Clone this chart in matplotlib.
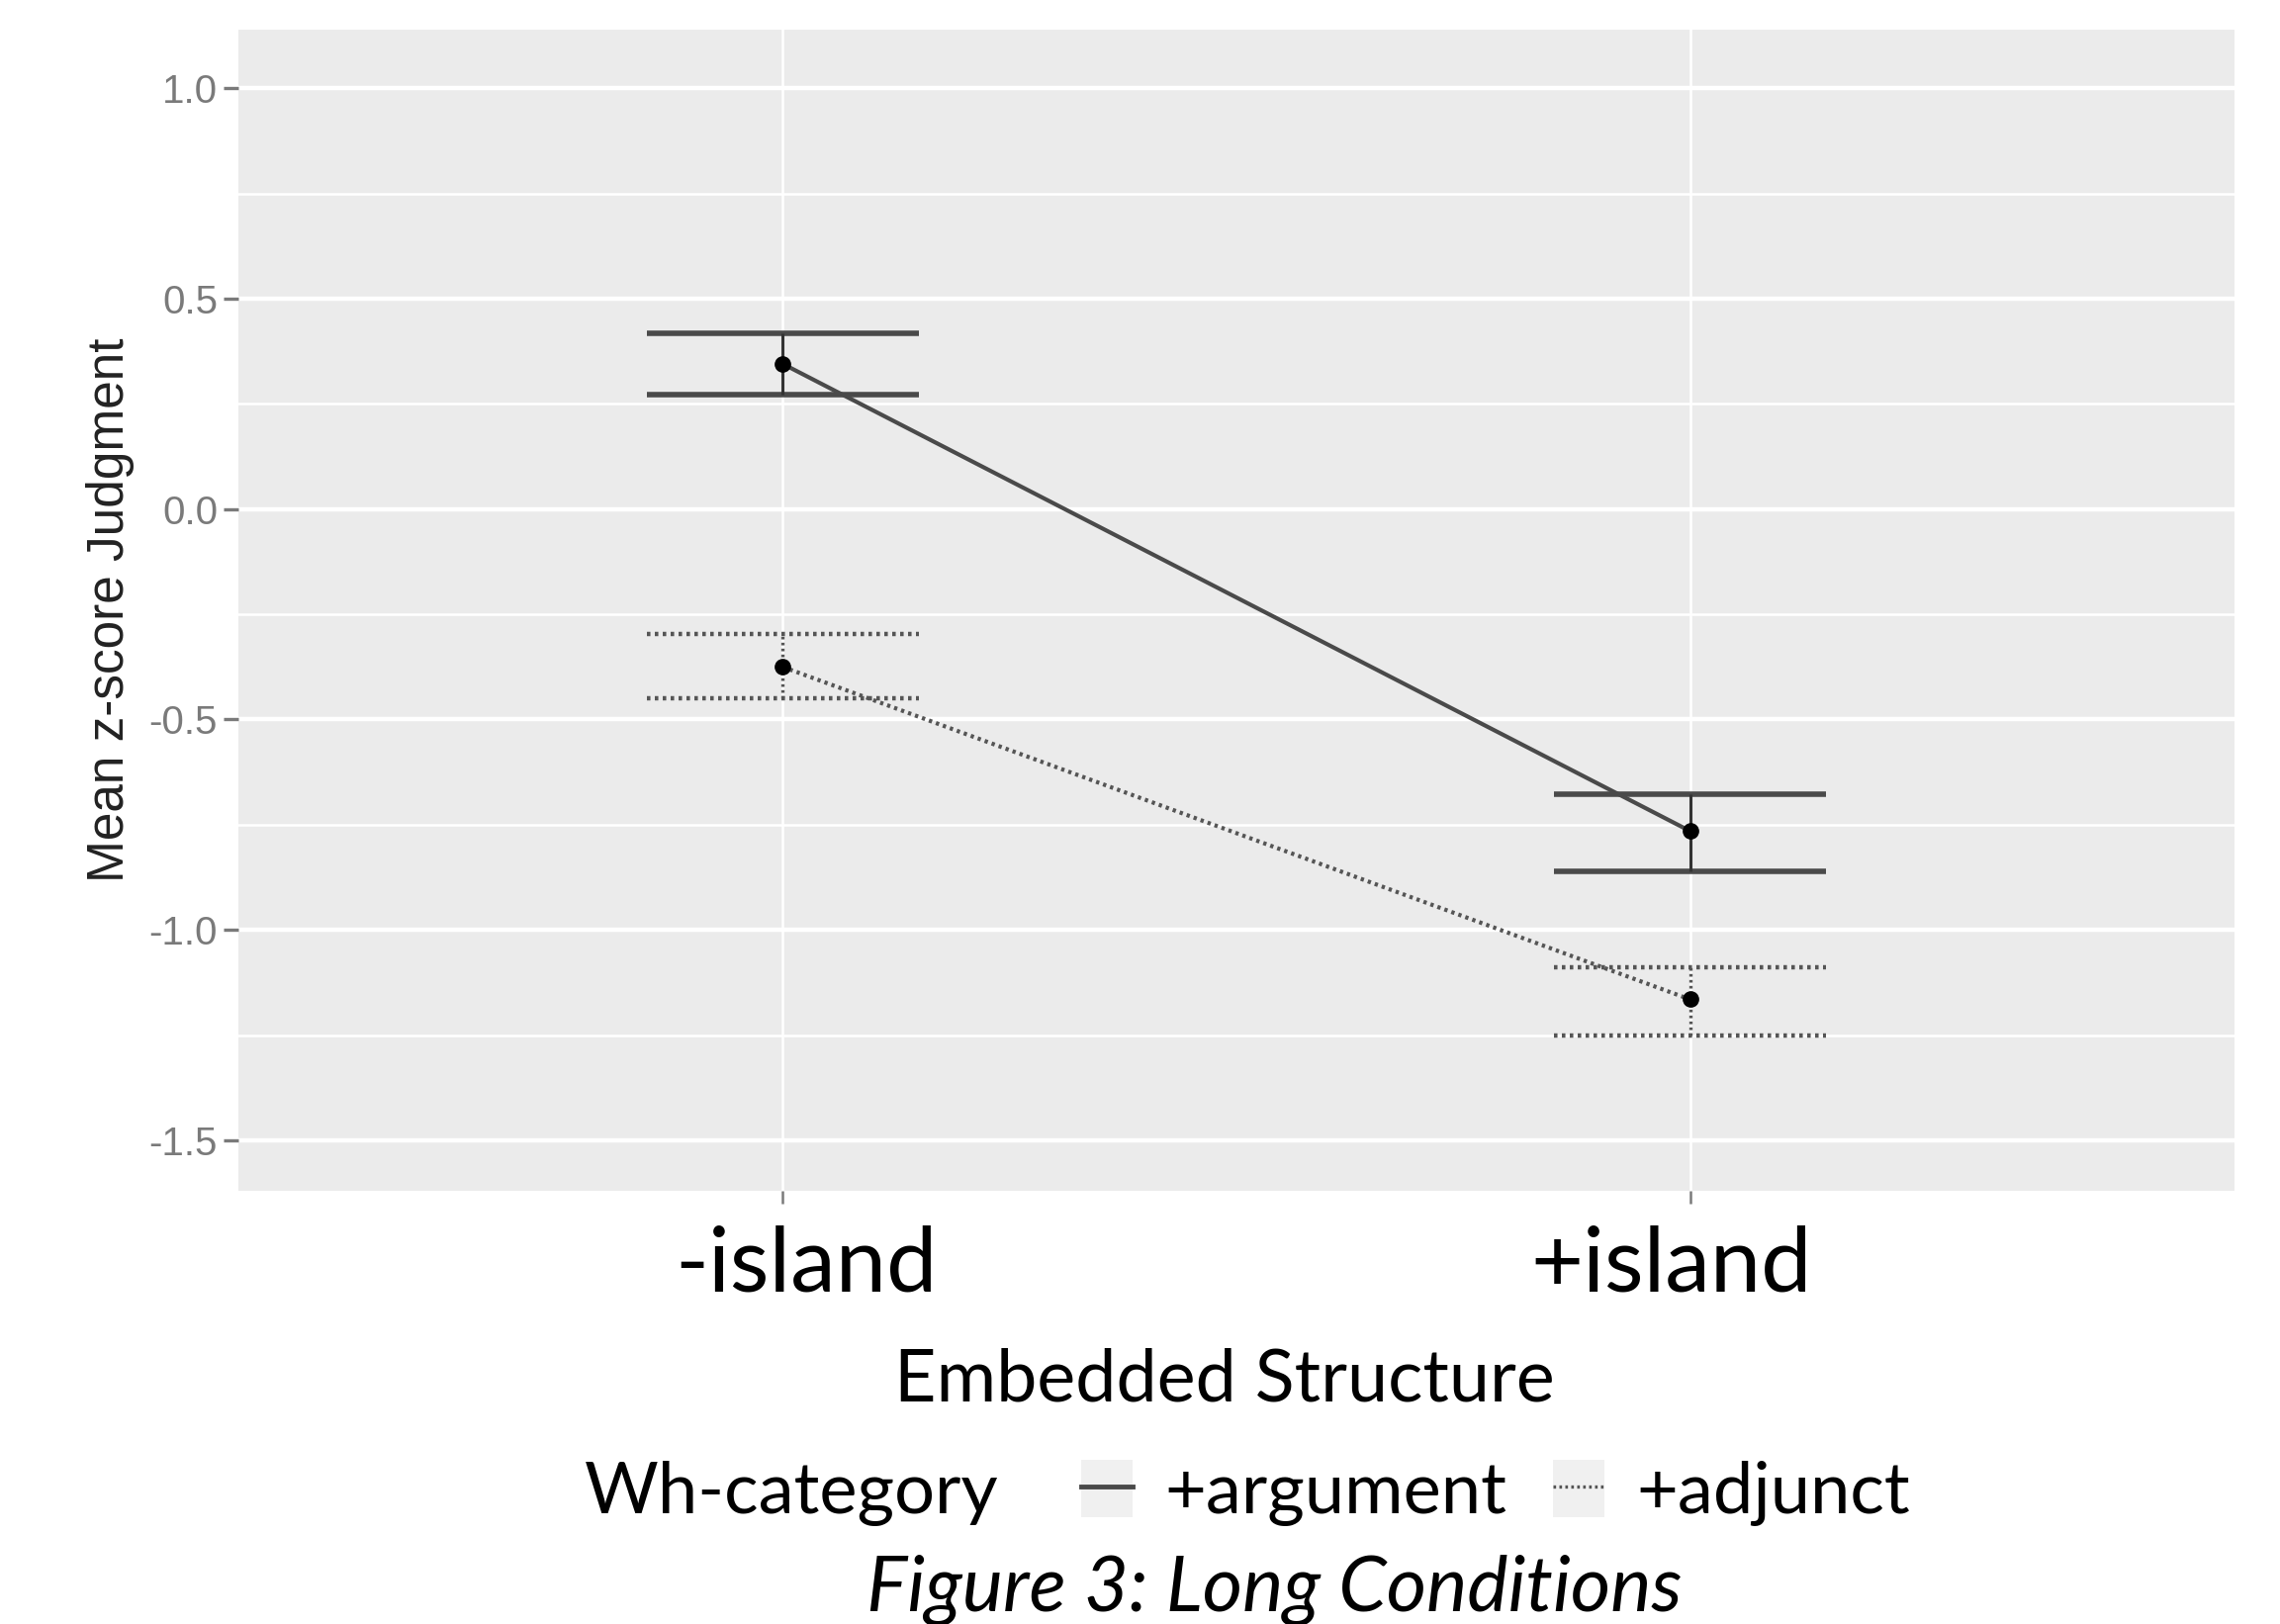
import matplotlib
matplotlib.use("Agg")
import matplotlib.pyplot as plt
from matplotlib.lines import Line2D
from matplotlib.patches import Patch
from matplotlib.transforms import ScaledTranslation
import numpy as np

# ── Data ─────────────────────────────────────────────────────────────────────
structures = ["-island", "+island"]
arg_mean = [0.345, -0.765]
arg_lo = [0.272, -0.860]
arg_hi = [0.418, -0.677]
adj_mean = [-0.375, -1.165]
adj_lo = [-0.450, -1.250]
adj_hi = [-0.298, -1.088]
yticks = [1.0, 0.5, 0.0, -0.5, -1.0, -1.5]

# ── Style ────────────────────────────────────────────────────────────────────
PANEL = "#ebebeb"
ARG_COL = "#4a4a4a"
ADJ_COL = "#555555"
TICK_COL = "#7a7a7a"
LABEL_FONT = "Lato"
AXIS_FONT = "Liberation Sans"
DOTS = (0, (0.8, 1.0))

fig = plt.figure(figsize=(23.05, 16.42), dpi=100)
ax = fig.add_axes([0.1045, 0.2667, 0.8755, 0.7153])
ax.set_facecolor(PANEL)
for sp in ax.spines.values():
    sp.set_visible(False)

x = np.arange(1, len(structures) + 1)
ax.set_xlim(0.4, 2.6)
ax.set_ylim(-1.62, 1.14)

# grid lines (ggplot style)
ax.set_yticks(yticks)
ax.set_yticks([0.75, 0.25, -0.25, -0.75, -1.25], minor=True)
ax.grid(True, which="major", axis="y", color="white", linewidth=3.2)
ax.grid(True, which="minor", axis="y", color="white", linewidth=1.8)
ax.grid(True, which="major", axis="x", color="white", linewidth=1.8)
ax.set_axisbelow(True)

# error bars
w = 0.15
for xi, lo, hi in zip(x, arg_lo, arg_hi):
    ax.hlines([lo, hi], xi - w, xi + w, color=ARG_COL, linewidth=4.0, zorder=3)
    ax.vlines(xi, lo, hi, color="#333333", linewidth=2.2, zorder=3)
for xi, lo, hi in zip(x, adj_lo, adj_hi):
    ax.hlines([lo, hi], xi - w, xi + w, color=ADJ_COL, linewidth=3.2,
              linestyle=DOTS, zorder=3)
    ax.vlines(xi, lo, hi, color=ADJ_COL, linewidth=2.4,
              linestyle=DOTS, zorder=3)

# lines + points
ax.plot(x, arg_mean, color=ARG_COL, linewidth=3.0, zorder=4)
ax.plot(x, adj_mean, color=ADJ_COL, linewidth=3.0, linestyle=DOTS, zorder=4)
ax.plot(x, arg_mean, "o", color="black", markersize=11, zorder=5)
ax.plot(x, adj_mean, "o", color="black", markersize=11, zorder=5)

# ticks
ax.set_yticklabels([f"{v:.1f}" for v in yticks], fontsize=29, color=TICK_COL,
                   family=AXIS_FONT)
ax.tick_params(axis="y", which="major", length=11, width=2.4, color=TICK_COL, pad=4)
ax.tick_params(axis="y", which="minor", length=0)
ax.set_xticks(x)
ax.set_xticklabels(structures, fontsize=66, family=LABEL_FONT, color="black")
ax.tick_params(axis="x", length=9, width=1.8, color=TICK_COL, pad=16)
# the category labels sit slightly off-centre in the original figure
for lab, dx in zip(ax.get_xticklabels(), [0.24, -0.19]):
    lab.set_transform(lab.get_transform() + ScaledTranslation(dx, 0, fig.dpi_scale_trans))

ax.set_ylabel("Mean z-score Judgment", fontsize=37, family=AXIS_FONT, color="#222222")
ax.yaxis.set_label_coords(-0.052, 0.5)
ax.set_xlabel("Embedded Structure", fontsize=53, family=LABEL_FONT, color="black",
              va="center")
ax.xaxis.set_label_coords(0.494, -0.163)

# legend
fig.text(0.2564, 0.0805, "Wh-category", fontsize=52, family=LABEL_FONT,
         va="center", ha="left")
handles = [
    (Patch(facecolor="#f0f0f0", edgecolor="none"),
     Line2D([], [], color=ARG_COL, linewidth=3.5)),
    (Patch(facecolor="#f0f0f0", edgecolor="none"),
     Line2D([], [], color=ADJ_COL, linewidth=2.4, linestyle=DOTS)),
]
fig.legend(handles, ["+argument", "+adjunct"], loc="center left",
           bbox_to_anchor=(0.446, 0.0805), ncol=2, frameon=False,
           prop={"family": LABEL_FONT, "size": 52},
           handlelength=0.72, handleheight=0.86, handletextpad=0.45,
           columnspacing=0.65)

fig.text(0.559, 0.021, "Figure 3: Long Conditions", fontsize=56,
         family=LABEL_FONT, style="italic", ha="center", va="center")

fig.savefig("out.png", dpi=100, facecolor="white")
